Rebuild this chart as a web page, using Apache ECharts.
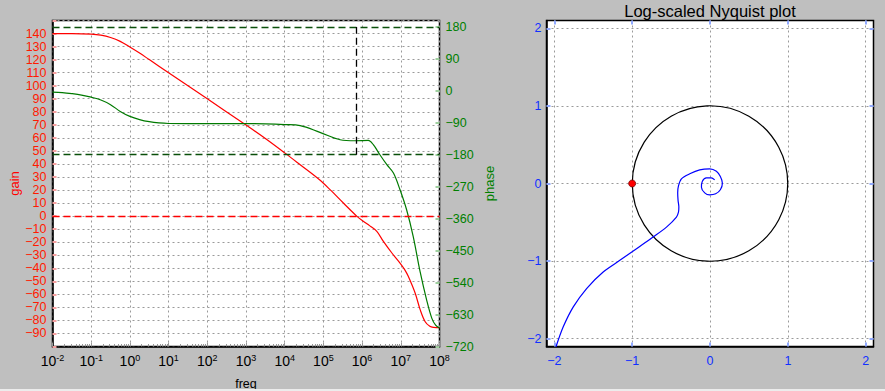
<!DOCTYPE html>
<html><head><meta charset="utf-8">
<script src="https://cdn.jsdelivr.net/npm/echarts@6/dist/echarts.min.js"></script>
<style>html,body{margin:0;padding:0;background:#bfbfbf;}#c{width:885px;height:391px;}</style>
</head><body><div id="c"></div><script>
// ---- Bode plot data (x = log10 of frequency) ----
const gainLogFreq = [-2, -1.5, -1.0, -0.75, -0.5, -0.25, 0, 0.25, 0.5, 1, 2, 3, 3.5, 4, 4.4, 4.9, 5.2, 5.43, 5.69, 5.86, 6.03, 6.2, 6.38, 6.55, 6.77, 6.98, 7.1, 7.19, 7.37, 7.5, 7.63, 7.75, 7.85, 8];
const gainDb      = [140.0, 140.0, 139.6, 138.8, 137.0, 134.0, 129.6, 125.0, 120.0, 110, 90, 69.8, 59.5, 48.5, 39.4, 27.9, 19.5, 12.6, 4.9, 0, -4, -7.5, -11.7, -19.4, -28.3, -36, -41, -46, -59, -71.7, -81, -84.5, -85.3, -85.5];
const phaseLogFreq = [-2, -1.75, -1.5, -1.25, -1.0, -0.75, -0.5, -0.25, 0, 0.25, 0.5, 0.75, 1, 2, 3, 3.5, 4, 4.4, 4.91, 5.43, 5.82, 6.16, 6.29, 6.46, 6.64, 6.81, 6.98, 7.15, 7.32, 7.5, 7.67, 7.8, 7.9, 8];
const phaseDeg     = [-3.5, -5, -8, -12, -18, -26, -39, -58, -72, -81, -87, -90.5, -92, -92.5, -92.5, -93, -95, -98, -117, -137.7, -140.6, -139.7, -151.8, -180, -208, -231.6, -278.7, -335, -410, -510, -590, -640, -660, -668];
const crossoverLogFreq = 5.86;
const phaseRefLines = [180, -180];
const gainRefLine = 0;
// tick labels
const freqExponents = [-2, -1, 0, 1, 2, 3, 4, 5, 6, 7, 8];
const gainTickLabels = [140, 130, 120, 110, 100, 90, 80, 70, 60, 50, 40, 30, 20, 10, 0, -10, -20, -30, -40, -50, -60, -70, -80, -90];
const phaseTickLabels = [180, 90, 0, -90, -180, -270, -360, -450, -540, -630, -720];
// ---- Nyquist data ----
const nyqRe = [-1.978, -1.885, -1.756, -1.585, -1.372, -1.158, -0.944, -0.731, -0.559, -0.431, -0.405, -0.40, -0.41, -0.415, -0.405, -0.367, -0.260, -0.132, -0.004, 0.082, 0.133, 0.159, 0.133, 0.073, -0.004, -0.068, -0.110, -0.098, -0.047, 0.017, 0.060];
const nyqIm = [-2.104, -1.847, -1.590, -1.353, -1.140, -0.990, -0.840, -0.690, -0.562, -0.433, -0.370, -0.300, -0.220, -0.120, -0.030, 0.060, 0.125, 0.176, 0.189, 0.158, 0.090, 0.004, -0.081, -0.133, -0.146, -0.120, -0.047, 0.030, 0.073, 0.073, 0.047];
const criticalPoint = [-1, 0];
const unitCircleRadius = 1;
const nyqTicks = [-2, -1, 0, 1, 2];
const nyqTitle = 'Log-scaled Nyquist plot';

const FONT = 'Liberation Sans, Arial, Helvetica, sans-serif';
const minus = v => (v < 0 ? '\u2212' + (-v) : '' + v);
const grid0 = {left: 52.5, top: 20.5, width: 387, height: 326};
const grid1 = {left: 546.5, top: 20.5, width: 327, height: 326};
const dotted = {color: '#9a9a9a', width: 1, type: [2, 3]};
const minorFreqTicks = [];
for (let n = -2; n < 8; n++) for (let k = 2; k <= 9; k++) minorFreqTicks.push(n + Math.log10(k));
const blueTick = {color: '#8fa8ff', width: 2};
const gridStyle = {show: true, backgroundColor: '#fff', borderColor: '#000', borderWidth: 1.5, containLabel: false, outerBoundsMode: 'none'};

const chart = echarts.init(document.getElementById('c'), null, {renderer: 'svg'});
chart.setOption({
  backgroundColor: '#bfbfbf',
  animation: false,
  textStyle: {fontFamily: FONT},
  grid: [Object.assign({}, gridStyle, grid0), Object.assign({}, gridStyle, grid1)],
  xAxis: [
    {type: 'value', gridIndex: 0, min: -2, max: 8, interval: 1,
     name: 'freq', nameLocation: 'middle', nameGap: 31, nameTextStyle: {color: '#000', fontSize: 12.5, fontFamily: FONT},
     axisLine: {onZero: false, lineStyle: {color: '#000', width: 1.5}},
     axisTick: {inside: true, length: 4, lineStyle: {color: '#999', width: 1}},
     axisLabel: {margin: 7, formatter: v => '{b|10}{s|' + v + '}',
       rich: {b: {fontSize: 14, color: '#000', lineHeight: 14, verticalAlign: 'bottom', fontFamily: FONT},
              s: {fontSize: 9, color: '#000', lineHeight: 14, verticalAlign: 'top', fontFamily: FONT}}},
     splitLine: {show: true, lineStyle: dotted}},
    {type: 'value', gridIndex: 0, min: -2, max: 8, position: 'bottom',
     axisLine: {show: false, onZero: false}, axisLabel: {show: false}, splitLine: {show: false},
     axisTick: {inside: true, length: 2.5, customValues: minorFreqTicks, lineStyle: {color: '#999', width: 1}}},
    {type: 'value', gridIndex: 1, min: -2.1, max: 2.1,
     axisLine: {onZero: false, lineStyle: {color: '#000', width: 1.5}},
     axisTick: {inside: true, length: 4, customValues: nyqTicks, lineStyle: blueTick},
     axisLabel: {customValues: nyqTicks, color: '#1030ff', fontSize: 12.5, margin: 8, formatter: minus},
     splitLine: {show: true, lineStyle: dotted}},
    {type: 'value', gridIndex: 1, min: -2.1, max: 2.1, position: 'top',
     axisLine: {show: false, onZero: false}, axisLabel: {show: false}, splitLine: {show: false},
     axisTick: {inside: true, length: 4, customValues: nyqTicks, lineStyle: blueTick}}
  ],
  yAxis: [
    {type: 'value', gridIndex: 0, min: -100, max: 150, interval: 10, position: 'left',
     name: 'gain', nameLocation: 'middle', nameGap: 31, nameTextStyle: {color: 'red', fontSize: 13, fontFamily: FONT},
     axisLine: {onZero: false, lineStyle: {color: '#000', width: 1.5}},
     axisTick: {inside: true, length: 4, lineStyle: {color: '#f5a0a0', width: 2}},
     axisLabel: {color: '#ff1a00', fontSize: 12.5, margin: 6,
       formatter: v => (gainTickLabels.indexOf(v) >= 0 ? minus(v) : '')},
     splitLine: {show: true, lineStyle: dotted}},
    {type: 'value', gridIndex: 0, min: -720, max: 198, position: 'right',
     name: 'phase', nameLocation: 'middle', nameGap: 43, nameTextStyle: {color: 'green', fontSize: 13, fontFamily: FONT},
     axisLine: {show: false, onZero: false},
     axisTick: {inside: true, length: 4, customValues: phaseTickLabels, lineStyle: {color: '#9fd09f', width: 2}},
     axisLabel: {customValues: phaseTickLabels, color: '#008000', fontSize: 12.5, lineHeight: 12, margin: 6, formatter: minus},
     splitLine: {show: false}},
    {type: 'value', gridIndex: 1, min: -2.1, max: 2.1, position: 'left',
     axisLine: {onZero: false, lineStyle: {color: '#000', width: 1.5}},
     axisTick: {inside: true, length: 4, customValues: nyqTicks, lineStyle: blueTick},
     axisLabel: {customValues: nyqTicks, color: '#1030ff', fontSize: 12.5, margin: 5, formatter: minus},
     splitLine: {show: true, lineStyle: dotted}},
    {type: 'value', gridIndex: 1, min: -2.1, max: 2.1, position: 'right',
     axisLine: {show: false, onZero: false}, axisLabel: {show: false}, splitLine: {show: false},
     axisTick: {inside: true, length: 4, customValues: nyqTicks, lineStyle: blueTick}}
  ],
  series: [
    {type: 'line', xAxisIndex: 0, yAxisIndex: 0, showSymbol: false, smooth: 0.35,
     data: gainLogFreq.map((x, i) => [x, gainDb[i]]),
     lineStyle: {color: '#ff0000', width: 1.2}, z: 3,
     markLine: {silent: true, symbol: 'none', label: {show: false},
       data: [{yAxis: gainRefLine, lineStyle: {color: '#ff0000', type: [7, 4], width: 1.3}}]}},
    {type: 'line', xAxisIndex: 0, yAxisIndex: 1, showSymbol: false, smooth: 0.35,
     data: phaseLogFreq.map((x, i) => [x, phaseDeg[i]]),
     lineStyle: {color: '#007a00', width: 1.2}, z: 3,
     markLine: {silent: true, symbol: 'none', label: {show: false},
       data: phaseRefLines.map(p => ({yAxis: p, lineStyle: {color: '#0a4f0a', type: [7, 4], width: 1.3}})).concat([
         [{coord: [crossoverLogFreq, phaseRefLines[1]], lineStyle: {color: '#000', type: [7, 4], width: 1.3}},
          {coord: [crossoverLogFreq, phaseRefLines[0]]}]])}},
    {type: 'custom', xAxisIndex: 2, yAxisIndex: 2, data: [[0, 0, unitCircleRadius]],
     renderItem: (params, api) => {
       const c = api.coord([api.value(0), api.value(1)]);
       const r = api.size([api.value(2), api.value(2)]);
       return {type: 'arc', shape: {cx: c[0], cy: c[1], r: (r[0] + r[1]) / 2, startAngle: 0, endAngle: Math.PI * 2},
               style: {stroke: '#000', fill: null, lineWidth: 1.2}};
     }, z: 2},
    {type: 'line', xAxisIndex: 2, yAxisIndex: 2, showSymbol: false, smooth: 0.3,
     data: nyqRe.map((x, i) => [x, nyqIm[i]]),
     lineStyle: {color: '#0000ff', width: 1.2}, z: 3},
    {type: 'scatter', xAxisIndex: 2, yAxisIndex: 2, data: [criticalPoint], symbolSize: 7,
     itemStyle: {color: '#ff0000', borderColor: '#700', borderWidth: 0.8, opacity: 1}, z: 4}
  ],
  graphic: [
    {type: 'text', x: grid1.left + grid1.width / 2, y: 11, z: 10,
     style: {text: nyqTitle, fill: '#000', font: '16.5px ' + FONT, textAlign: 'center', textVerticalAlign: 'middle'}},
    {type: 'rect', shape: {x: 0, y: 389, width: 885, height: 2}, style: {fill: '#ececec'}, z: 100}
  ]
});
</script></body></html>
